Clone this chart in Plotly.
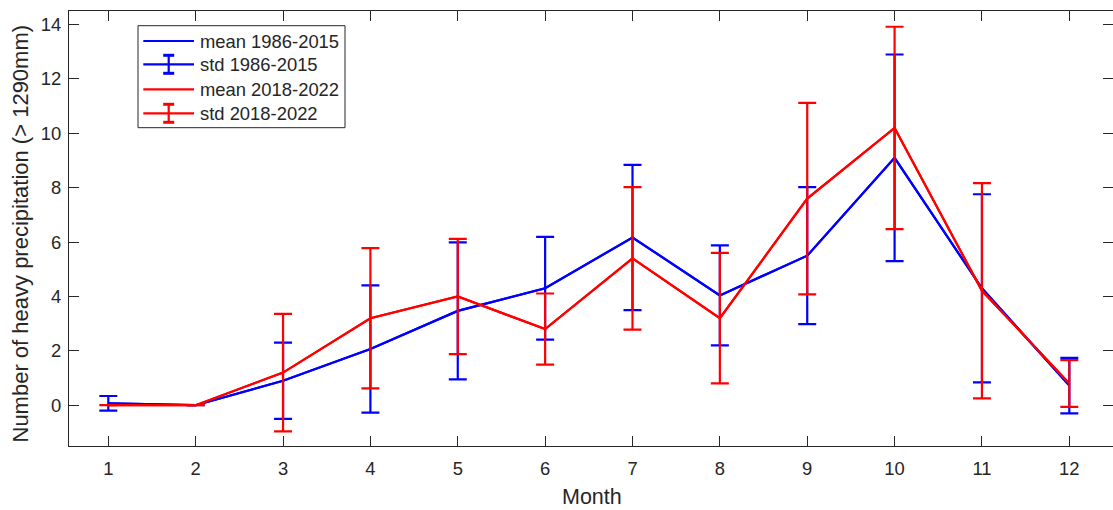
import plotly.graph_objects as go

months = list(range(1, 13))
mean_8615 = [0.07, 0, 0.9, 2.07, 3.47, 4.3, 6.17, 4.04, 5.5, 9.1, 4.3, 0.72]
std_8615 = [0.27, 0, 1.4, 2.34, 2.52, 1.89, 2.67, 1.84, 2.52, 3.8, 3.46, 1.02]
mean_1822 = [0, 0, 1.2, 3.2, 4.0, 2.8, 5.4, 3.2, 7.6, 10.2, 4.21, 0.8]
std_1822 = [0, 0, 2.16, 2.58, 2.12, 1.31, 2.62, 2.4, 3.52, 3.72, 3.96, 0.86]
legend_labels = ["mean 1986-2015", "std 1986-2015", "mean 2018-2022", "std 2018-2022"]

BLUE = "#0000FF"
RED = "#FF0000"
AX = "#262626"
FONT = "Liberation Sans, Arial, sans-serif"

W, H = 1113, 510
L, R, T, B = 69, 1113, 11, 446

fig = go.Figure()
for mean, std, col in [(mean_8615, std_8615, BLUE), (mean_1822, std_1822, RED)]:
    fig.add_trace(go.Scatter(x=months, y=mean, mode="lines",
                             line=dict(color=col, width=2.2), showlegend=False))
    fig.add_trace(go.Scatter(x=months, y=mean, mode="lines",
                             line=dict(color=col, width=2.2), showlegend=False,
                             error_y=dict(type="data", array=std, visible=True,
                                          color=col, thickness=2.2, width=9)))


def px2x(p):
    return (p - L) / (R - L)


def px2y(p):
    return (B - p) / (B - T)


shapes = []
annotations = []
# legend box
shapes.append(dict(type="rect", xref="paper", yref="paper",
                   x0=px2x(138), x1=px2x(345), y0=px2y(25.7), y1=px2y(127.7),
                   fillcolor="white", line=dict(color=AX, width=1), layer="above"))
rows = [41, 64.3, 89.3, 113.3]
cols = [BLUE, BLUE, RED, RED]
for i, (ry, c, lab) in enumerate(zip(rows, cols, legend_labels)):
    shapes.append(dict(type="line", xref="paper", yref="paper",
                       x0=px2x(143.3), x1=px2x(194), y0=px2y(ry), y1=px2y(ry),
                       line=dict(color=c, width=2.2), layer="above"))
    if i % 2 == 1:
        cx = 168.7
        shapes.append(dict(type="line", xref="paper", yref="paper",
                           x0=px2x(cx), x1=px2x(cx), y0=px2y(ry - 9), y1=px2y(ry + 9),
                           line=dict(color=c, width=2.2), layer="above"))
        for dy in (-9, 9):
            shapes.append(dict(type="line", xref="paper", yref="paper",
                               x0=px2x(cx - 5.5), x1=px2x(cx + 5.5),
                               y0=px2y(ry + dy), y1=px2y(ry + dy),
                               line=dict(color=c, width=3), layer="above"))
    annotations.append(dict(text=lab, xref="paper", yref="paper",
                            x=px2x(198), y=px2y(ry), xanchor="left", yanchor="middle",
                            showarrow=False, font=dict(family=FONT, size=18.4, color=AX)))

annotations.append(dict(text="Month", xref="paper", yref="paper",
                        x=px2x(592), y=px2y(497), xanchor="center", yanchor="middle",
                        showarrow=False, font=dict(family=FONT, size=21.5, color=AX)))
annotations.append(dict(text="Number of heavy precipitation (> 1290mm)", xref="paper", yref="paper",
                        x=px2x(19.5), y=px2y(234), xanchor="center", yanchor="middle",
                        textangle=-90, showarrow=False,
                        font=dict(family=FONT, size=22, color=AX)))

axis_common = dict(showgrid=False, zeroline=False, showline=True, linecolor=AX, linewidth=1,
                   mirror="ticks", ticks="inside", ticklen=10, tickcolor=AX, tickwidth=1,
                   tickfont=dict(family=FONT, size=18.4, color=AX))

fig.update_layout(
    width=W, height=H,
    margin=dict(l=L, r=W - R, t=T, b=H - B, pad=0),
    paper_bgcolor="white", plot_bgcolor="white",
    showlegend=False,
    xaxis=dict(range=[0.55, 12.5], tickmode="array", tickvals=months,
               ticktext=[str(m) for m in months], ticklabelstandoff=6, **axis_common),
    yaxis=dict(range=[-1.5, 14.5], tickmode="array", tickvals=list(range(0, 15, 2)),
               ticktext=[str(v) for v in range(0, 15, 2)], ticklabelstandoff=3, **axis_common),
    shapes=shapes, annotations=annotations,
)

fig.write_html("out.html", config={"displayModeBar": False},
               post_script="document.body.style.margin='0';document.body.style.overflow='hidden';")
